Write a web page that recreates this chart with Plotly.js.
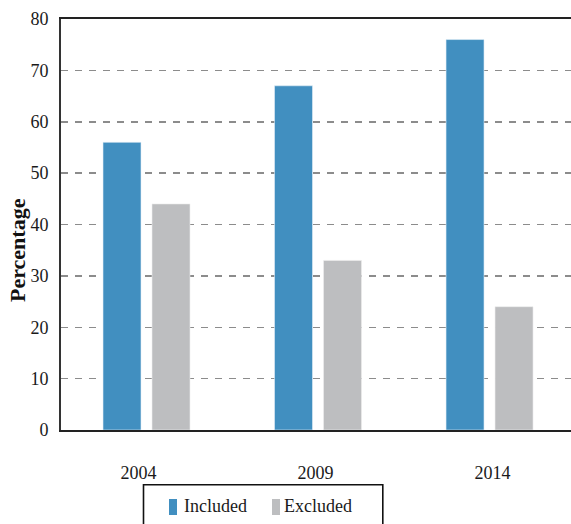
<!DOCTYPE html>
<html>
<head>
<meta charset="utf-8">
<script src="https://cdn.plot.ly/plotly-3.0.1.min.js"></script>
<style>
  html, body { margin: 0; padding: 0; background: #fff; }
  #chart { width: 571px; height: 524px; }
</style>
</head>
<body>
<div id="chart"></div>
<script>
// Survey years and share of respondents (%)
const years = ['2004', '2009', '2014'];
const includedPct = [56, 67, 76];
const excludedPct = [44, 33, 24];
const seriesNames = ['Included', 'Excluded'];
const seriesColors = ['#418fc0', '#bdbec0'];
const yTicks = [0, 10, 20, 30, 40, 50, 60, 70, 80];

const positions = years.map((_, i) => i);
const serif = 'Liberation Serif';

const traces = [
  {
    type: 'bar', name: seriesNames[0], x: positions, y: includedPct,
    marker: { color: seriesColors[0], line: { color: '#e4eef6', width: 0.6 } },
    hoverinfo: 'skip', showlegend: false
  },
  {
    type: 'bar', name: seriesNames[1], x: positions, y: excludedPct,
    marker: { color: seriesColors[1], line: { color: '#eeeeef', width: 0.6 } },
    hoverinfo: 'skip', showlegend: false
  }
];

// Plot-area pixel geometry, used for paper-relative placement of the frame pieces
const W = 510, H = 411, L = 61, T = 19;
const px = v => (v - L) / W;
const py = v => (T + H - v) / H;

// Boxed key below the plot: tall swatch followed by the series name
const keySwatchLeft = [169, 272];
const keyTextLeft = [183, 282.5];
const keyShapes = seriesNames.map((_, i) => ({
  type: 'rect', xref: 'paper', yref: 'paper',
  x0: px(keySwatchLeft[i]), x1: px(keySwatchLeft[i] + 8),
  y0: py(499), y1: py(515),
  line: { width: 0 }, fillcolor: seriesColors[i]
}));
const keyLabels = seriesNames.map((name, i) => ({
  text: name, xref: 'paper', yref: 'paper',
  x: px(keyTextLeft[i]), y: py(506), xanchor: 'left', yanchor: 'middle',
  showarrow: false, xshift: -1,
  font: { family: serif, size: 18, color: '#1a1a1a' }
}));

const layout = {
  width: 571, height: 524,
  margin: { l: L, r: 0, t: T, b: 524 - T - H, pad: 0 },
  paper_bgcolor: '#fff', plot_bgcolor: '#fff',
  font: { family: serif, color: '#1a1a1a', size: 18 },
  barmode: 'group',
  bargap: 0.4286,
  bargroupgap: 0.2245,
  showlegend: false,
  xaxis: {
    type: 'linear',
    range: [-0.4985, 2.475],
    showticklabels: false, ticks: '', showgrid: false, zeroline: false,
    showline: true, mirror: true, linecolor: '#222', linewidth: 1.6,
    fixedrange: true
  },
  xaxis2: {
    type: 'linear', overlaying: 'x', anchor: 'y', side: 'bottom',
    range: [-0.4379, 2.4435],
    tickvals: positions, ticktext: years,
    tickfont: { family: serif, size: 18, color: '#1a1a1a' },
    ticks: 'outside', ticklen: 26, tickcolor: 'rgba(0,0,0,0)',
    showgrid: false, zeroline: false, showline: false,
    fixedrange: true
  },
  yaxis: {
    range: [0, 80],
    tickvals: yTicks,
    tickfont: { family: serif, size: 18, color: '#1a1a1a' },
    ticks: 'outside', ticklen: 7, tickcolor: 'rgba(0,0,0,0)',
    showgrid: true, gridcolor: '#8c8c8c', gridwidth: 1.5, griddash: '7px,7px',
    zeroline: false,
    showline: true, linecolor: '#333', linewidth: 2,
    fixedrange: true
  },
  shapes: [
    {
      type: 'rect', xref: 'paper', yref: 'paper',
      x0: px(143.5), x1: px(382.8), y0: py(484.8), y1: py(535),
      line: { color: '#111', width: 1.6 }, fillcolor: 'rgba(0,0,0,0)'
    }
  ].concat(keyShapes),
  annotations: [
    {
      text: 'Percentage', xref: 'paper', yref: 'paper',
      x: px(17), y: py(250), xanchor: 'center', yanchor: 'middle',
      textangle: -90, showarrow: false,
      font: { family: serif, size: 22, color: '#111', weight: 'bold' }
    }
  ].concat(keyLabels)
};

// a blank trace so the label axis is laid out
traces.push({
  type: 'scatter', x: positions, y: positions.map(() => null), xaxis: 'x2', yaxis: 'y',
  mode: 'markers', showlegend: false, hoverinfo: 'skip'
});

Plotly.newPlot('chart', traces, layout, { displayModeBar: false, staticPlot: true });
</script>
</body>
</html>
